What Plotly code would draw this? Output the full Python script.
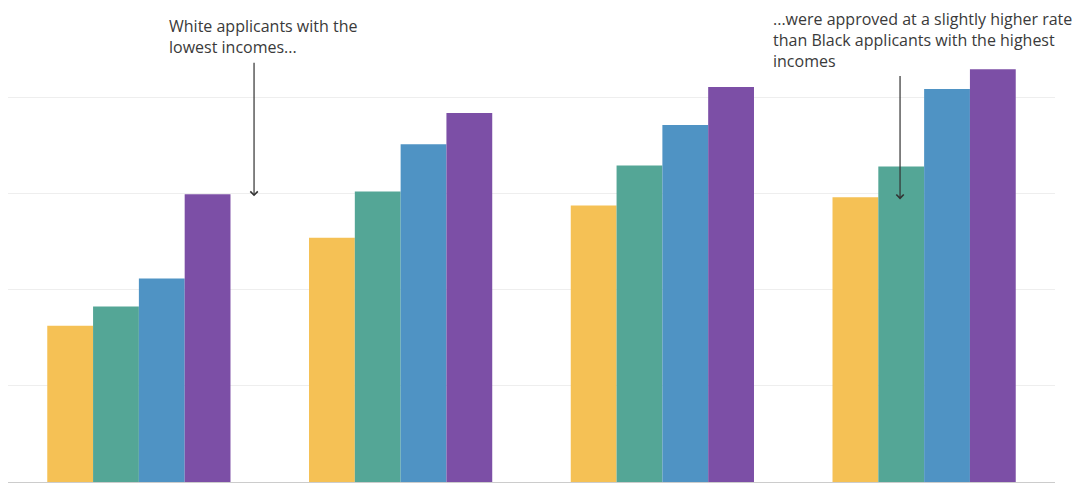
import plotly.graph_objects as go

categories = ["Lowest income", "Low-middle income", "High-middle income", "Highest income"]
series_names = ["Group A", "Black", "Group C", "White"]
series_colors = ["#F5C155", "#54A696", "#4F93C4", "#7C4FA6"]
values_a = [32.5, 50.8, 57.5, 59.2]
values_black = [36.5, 60.4, 65.8, 65.6]
values_c = [42.3, 70.2, 74.2, 81.7]
values_white = [59.8, 76.7, 82.1, 85.8]
all_values = [values_a, values_black, values_c, values_white]

note_left = ["White applicants with the", "lowest incomes..."]
note_right = ["...were approved at a slightly higher rate", "than Black applicants with the highest", "incomes"]

fig = go.Figure()
for name, color, vals in zip(series_names, series_colors, all_values):
    fig.add_trace(go.Bar(x=categories, y=vals, name=name, marker=dict(color=color, line=dict(width=0)),
                         showlegend=False, hoverinfo="x+y+name"))

FONT = "Open Sans, sans-serif"
TXT = "#3a3a3a"
FS = 16
fig.update_layout(
    width=1073, height=483,
    margin=dict(l=8, r=18, t=1, b=1),
    paper_bgcolor="white", plot_bgcolor="white",
    barmode="group", bargap=0.3, bargroupgap=0,
    font=dict(family=FONT, size=FS, color=TXT),
    xaxis=dict(showticklabels=False, showgrid=False, zeroline=False,
               showline=True, linecolor="#cccccc", linewidth=2, ticks=""),
    yaxis=dict(range=[0, 100], dtick=20, showticklabels=False, showgrid=True,
               gridcolor="#eeeeee", gridwidth=1, zeroline=False, ticks=""),
)

annotations = [
    dict(text="<br>".join(note_left), xref="paper", yref="paper", x=0.1519, y=0.976,
         xanchor="left", yanchor="top", align="left", showarrow=False,
         font=dict(family=FONT, size=FS, color=TXT)),
    dict(text="<br>".join(note_right), xref="paper", yref="paper", x=0.7288, y=0.9896,
         xanchor="left", yanchor="top", align="left", showarrow=False,
         font=dict(family=FONT, size=FS, color=TXT)),
    dict(text="", xref="paper", yref="paper", x=0.235, y=0.594, ax=0, ay=-135,
         showarrow=True, arrowhead=4, arrowsize=1.2, arrowwidth=1.2, arrowcolor="#333333"),
    dict(text="", xref="paper", yref="paper", x=0.852, y=0.5875, ax=0, ay=-125,
         showarrow=True, arrowhead=4, arrowsize=1.2, arrowwidth=1.2, arrowcolor="#333333"),
]
fig.update_layout(annotations=annotations)

fig.write_html("out.html")
